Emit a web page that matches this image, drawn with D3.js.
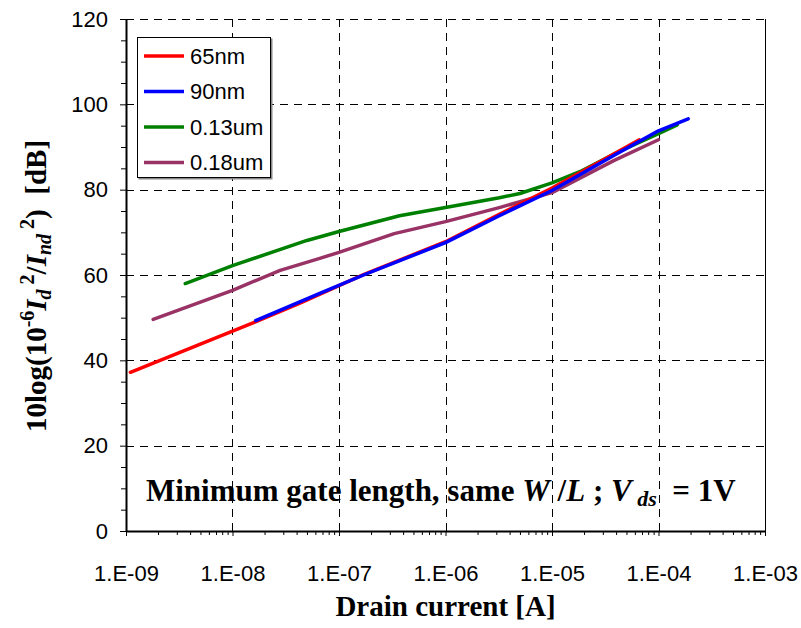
<!DOCTYPE html>
<html>
<head>
<meta charset="utf-8">
<script src="https://cdn.jsdelivr.net/npm/d3@7"></script>
<style>
  body { margin: 0; background: #fff; }
  text { fill: #000; }
</style>
</head>
<body>
<div id="container"></div>
<script>
const w = 801;
const h = 628;
const p = {top: 19, right: 36, bottom: 97, left: 126};

// series: [drain current (A), dB]
const seriesNames = ['65nm', '90nm', '0.13um', '0.18um'];
const seriesColors = ['#ff0000', '#0000ff', '#008000', '#993366'];
const nm65 = [
  [1.1e-9, 37.2], [1.6e-8, 48.9], [4.3e-8, 53.4], [1.7e-7, 60.1], [1e-6, 67.8],
  [3.2e-6, 74.2], [1e-5, 80.4], [2.7e-5, 86.3], [6.6e-5, 91.7]
];
const nm90 = [
  [1.65e-8, 49.3], [6.6e-8, 55.7], [1.7e-7, 60.0], [1e-6, 67.6], [3.2e-6, 73.9],
  [1e-5, 79.8], [3.8e-5, 88.0], [1e-4, 93.8], [1.9e-4, 96.6]
];
const um013 = [
  [3.6e-9, 58.0], [1e-8, 62.2], [5e-8, 68.1], [1e-7, 70.2], [3.7e-7, 73.9],
  [1e-6, 75.8], [3.2e-6, 78.1], [5e-6, 79.1], [1e-5, 81.6], [1.9e-5, 84.4],
  [4.4e-5, 89.1], [1e-4, 93.1], [1.5e-4, 95.2]
];
const um018 = [
  [1.8e-9, 49.6], [1e-8, 56.4], [2.8e-8, 61.1], [6.6e-8, 63.9], [1e-7, 65.3],
  [3.3e-7, 69.7], [1e-6, 72.5], [3.2e-6, 75.8], [1e-5, 79.3], [3.8e-5, 86.8],
  [1e-4, 91.7]
];
const seriesData = [nm65, nm90, um013, um018];

const xTicks = [1e-9, 1e-8, 1e-7, 1e-6, 1e-5, 1e-4, 1e-3];
const xTickLabels = ['1.E-09', '1.E-08', '1.E-07', '1.E-06', '1.E-05', '1.E-04', '1.E-03'];
const yTicks = [0, 20, 40, 60, 80, 100, 120];

const svg = d3.select('#container')
  .append('svg')
  .attr('width', w)
  .attr('height', h)
  .attr('viewBox', [0, 0, w, h]);

const x = d3.scaleLog()
  .domain([1e-9, 1e-3])
  .range([p.left, w - p.right]);
const y = d3.scaleLinear()
  .domain([0, 120])
  .range([h - p.bottom, p.top]);

const minorX = [];
xTicks.slice(0, -1).forEach(d => {
  for (let k = 2; k <= 9; k++) minorX.push(d * k);
});
const minorY = d3.range(0, 121, 5).filter(v => v % 20 !== 0);

// grid
const grid = svg.append('g')
  .attr('stroke', '#000')
  .attr('stroke-width', 1)
  .attr('stroke-dasharray', '8,6');
grid.selectAll('line.v')
  .data(xTicks.slice(1, -1))
  .enter().append('line')
  .attr('x1', d => Math.round(x(d)) + 0.5)
  .attr('x2', d => Math.round(x(d)) + 0.5)
  .attr('y1', y(0))
  .attr('y2', y(120));
grid.selectAll('line.h')
  .data(yTicks.slice(1))
  .enter().append('line')
  .attr('y1', d => Math.round(y(d)) + 0.5)
  .attr('y2', d => Math.round(y(d)) + 0.5)
  .attr('x1', x(1e-9))
  .attr('x2', x(1e-3));

// right border
svg.append('line')
  .attr('x1', Math.round(x(1e-3)) + 0.5)
  .attr('x2', Math.round(x(1e-3)) + 0.5)
  .attr('y1', y(0))
  .attr('y2', y(120))
  .attr('stroke', '#000');

// axes
const xAxis = d3.axisBottom(x)
  .tickValues(xTicks)
  .tickFormat((d, i) => xTickLabels[i])
  .tickSize(5)
  .tickPadding(29)
  .tickSizeOuter(0);
const xMinor = d3.axisBottom(x)
  .tickValues(minorX)
  .tickFormat('')
  .tickSize(4)
  .tickSizeOuter(0);
const yAxis = d3.axisLeft(y)
  .tickValues(yTicks)
  .tickSize(6)
  .tickPadding(12)
  .tickSizeOuter(0);
const yMinor = d3.axisLeft(y)
  .tickValues(minorY)
  .tickFormat('')
  .tickSize(5)
  .tickSizeOuter(0);

svg.append('g')
  .attr('transform', 'translate(0,' + (h - p.bottom) + ')')
  .call(xMinor)
  .call(g => g.select('.domain').remove());
svg.append('g')
  .attr('transform', 'translate(0,' + (h - p.bottom) + ')')
  .call(xAxis)
  .call(g => g.select('.domain').attr('stroke-width', 2))
  .call(g => g.selectAll('text')
    .attr('font-family', 'Liberation Sans, Arial, sans-serif')
    .attr('font-size', 22));
svg.append('g')
  .attr('transform', 'translate(' + p.left + ',0)')
  .call(yMinor)
  .call(g => g.select('.domain').remove());
svg.append('g')
  .attr('transform', 'translate(' + p.left + ',0)')
  .call(yAxis)
  .call(g => g.select('.domain').attr('stroke-width', 2))
  .call(g => g.selectAll('text')
    .attr('font-family', 'Liberation Sans, Arial, sans-serif')
    .attr('font-size', 22));

// series lines
const line = d3.line()
  .x(d => x(d[0]))
  .y(d => y(d[1]));

// draw order: purple, green, red, blue (blue on top of red)
[3, 2, 0, 1].forEach(i => {
  svg.append('path')
    .datum(seriesData[i])
    .attr('fill', 'none')
    .attr('stroke', seriesColors[i])
    .attr('stroke-width', 3.5)
    .attr('stroke-linecap', 'round')
    .attr('stroke-linejoin', 'round')
    .attr('d', line);
});

// legend
const legend = svg.append('g')
  .attr('transform', 'translate(137,37)');
legend.append('rect')
  .attr('x', 1.5).attr('y', 1.5)
  .attr('width', 134).attr('height', 141)
  .attr('fill', '#888');
legend.append('rect')
  .attr('x', 0.5).attr('y', 0.5)
  .attr('width', 133).attr('height', 140)
  .attr('fill', '#fff')
  .attr('stroke', '#000')
  .attr('stroke-width', 1);
const items = legend.selectAll('g.item')
  .data(seriesNames)
  .enter().append('g')
  .attr('transform', (d, i) => 'translate(0,' + (19 + i * 35.5) + ')');
items.append('line')
  .attr('x1', 7).attr('x2', 47)
  .attr('stroke', (d, i) => seriesColors[i])
  .attr('stroke-width', 3.5);
items.append('text')
  .attr('x', 53)
  .attr('dy', '0.36em')
  .attr('font-family', 'Liberation Sans, Arial, sans-serif')
  .attr('font-size', 22)
  .text(d => d);

// annotation
const note = svg.append('text')
  .attr('x', 146)
  .attr('y', 501)
  .attr('font-family', 'Liberation Serif, Times New Roman, serif')
  .attr('font-weight', 'bold')
  .attr('font-size', 31);
note.append('tspan').text('Minimum gate length, same ');
note.append('tspan').attr('font-style', 'italic').text('W');
note.append('tspan').text('\u00a0/');
note.append('tspan').attr('font-style', 'italic').text('L');
note.append('tspan').text('\u00a0;\u00a0');
note.append('tspan').attr('font-style', 'italic').text('V');
note.append('tspan').attr('font-style', 'italic').attr('font-size', 22).attr('dy', 5).text('\u00a0ds');
note.append('tspan').attr('dy', -5).text('\u00a0\u00a0=\u00a01V');

// x title
svg.append('text')
  .attr('x', x(Math.sqrt(1e-9 * 1e-3)))
  .attr('y', 616)
  .attr('text-anchor', 'middle')
  .attr('font-family', 'Liberation Serif, Times New Roman, serif')
  .attr('font-weight', 'bold')
  .attr('font-size', 29)
  .text('Drain current [A]');

// y title
const yTitle = svg.append('text')
  .attr('transform', 'translate(46,' + 286 + ') rotate(-90)')
  .attr('text-anchor', 'middle')
  .attr('font-family', 'Liberation Serif, Times New Roman, serif')
  .attr('font-weight', 'bold')
  .attr('font-size', 29);
yTitle.append('tspan').text('10log(10');
yTitle.append('tspan').attr('font-size', 20).attr('dy', -12).text('-6');
yTitle.append('tspan').attr('font-style', 'italic').attr('dy', 12).text('I');
yTitle.append('tspan').attr('font-style', 'italic').attr('font-size', 20).attr('dy', 5).text('d');
yTitle.append('tspan').attr('font-size', 20).attr('dy', -17).text('\u00a02');
yTitle.append('tspan').attr('dy', 12).text('/');
yTitle.append('tspan').attr('font-style', 'italic').text('I');
yTitle.append('tspan').attr('font-style', 'italic').attr('font-size', 20).attr('dy', 5).text('nd');
yTitle.append('tspan').attr('font-size', 20).attr('dy', -17).text('\u00a02');
yTitle.append('tspan').attr('dy', 12).text(')\u00a0\u00a0[dB]');
</script>
</body>
</html>
